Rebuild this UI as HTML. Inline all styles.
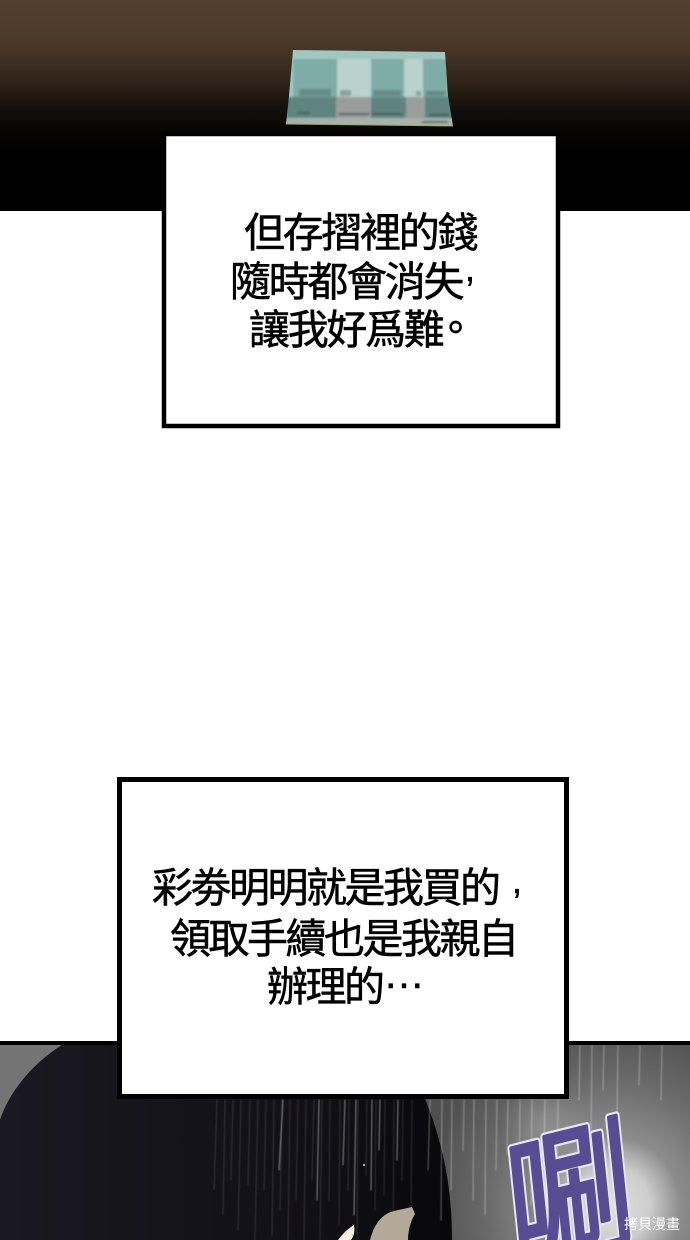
<!DOCTYPE html>
<html lang="zh-Hant">
<head>
<meta charset="utf-8">
<title>Comic panel</title>
<style>
html,body{margin:0;padding:0;background:#fff}
svg{display:block}
.t{font-family:"Liberation Sans","WenQuanYi Zen Hei","Noto Sans CJK TC",sans-serif;font-size:41px;fill:#000;stroke:#000;stroke-width:.55px}
.p{font-family:"Liberation Sans",sans-serif;font-size:36px;fill:#000;stroke:#000;stroke-width:.5px}
.g{font-family:"Liberation Sans","WenQuanYi Zen Hei","Noto Sans CJK TC",sans-serif;font-size:130px;stroke-linejoin:round}
</style>
</head>
<body>
<svg xmlns="http://www.w3.org/2000/svg" width="690" height="1240" viewBox="0 0 690 1240">
<defs>
<linearGradient id="top" x1="0" y1="0" x2="0" y2="1">
<stop offset="0" stop-color="#533f2e"/>
<stop offset=".2" stop-color="#4c3a2a"/>
<stop offset=".38" stop-color="#31251b"/>
<stop offset=".5" stop-color="#17110c"/>
<stop offset=".62" stop-color="#070504"/>
<stop offset=".72" stop-color="#000"/>
</linearGradient>
<linearGradient id="dark" x1="0" y1="0" x2="1" y2="0">
<stop offset="0" stop-color="#1a1820"/>
<stop offset=".7" stop-color="#111016"/>
<stop offset="1" stop-color="#08080b"/>
</linearGradient>
<radialGradient id="glow" gradientUnits="userSpaceOnUse" cx="612" cy="1205" r="190">
<stop offset="0" stop-color="#e0e0e0"/>
<stop offset=".2" stop-color="#cdcdcd"/>
<stop offset=".36" stop-color="#8c8c8c"/>
<stop offset=".7" stop-color="#666"/>
<stop offset="1" stop-color="#4f4f4f"/>
</radialGradient>
<radialGradient id="spot" gradientUnits="userSpaceOnUse" cx="545" cy="1125" r="45">
<stop offset="0" stop-color="#aaa" stop-opacity=".45"/>
<stop offset="1" stop-color="#aaa" stop-opacity="0"/>
</radialGradient>
<clipPath id="card"><polygon points="293,50 445,52 448,96 453,126 286,124 289,96"/></clipPath>
<clipPath id="scene"><rect x="0" y="1045" width="690" height="195"/></clipPath>
<filter id="b"><feGaussianBlur stdDeviation="1"/></filter>
<filter id="r"><feGaussianBlur stdDeviation=".45"/></filter>
</defs>

<!-- top panel -->
<rect width="690" height="211" fill="url(#top)"/>
<g clip-path="url(#card)">
<g filter="url(#b)">
<rect x="280" y="45" width="180" height="85" fill="#a3c7c0"/>
<rect x="293" y="59" width="44" height="38" fill="#7eaca6"/>
<rect x="337" y="59" width="34" height="38" fill="#b9d3cc"/>
<rect x="371" y="59" width="33" height="38" fill="#7eaca6"/>
<rect x="404" y="59" width="19" height="38" fill="#b9d3cc"/>
<rect x="423" y="59" width="30" height="38" fill="#7eaca6"/>
<rect x="280" y="97" width="56" height="22" fill="#5f8481"/>
<rect x="336" y="97" width="35" height="22" fill="#9a9d9c"/>
<rect x="371" y="97" width="35" height="22" fill="#5f8481"/>
<rect x="406" y="97" width="19" height="22" fill="#9a9d9c"/>
<rect x="425" y="97" width="30" height="22" fill="#5f8481"/>
<rect x="280" y="118" width="180" height="10" fill="#a5b3ac"/>
<rect x="299" y="89" width="32" height="7" fill="#668a87"/>
<rect x="340" y="90" width="11" height="6" fill="#8ba19c"/>
<rect x="373" y="90" width="28" height="6" fill="#668a87"/>
<rect x="416" y="91" width="5" height="5" fill="#8ba19c"/>
<rect x="426" y="91" width="19" height="5" fill="#668a87"/>
<rect x="297" y="112" width="13" height="2" fill="#3f5c5a"/>
<rect x="339" y="113" width="30" height="2" fill="#4a5d5b"/>
<rect x="372" y="113" width="30" height="2" fill="#3f5c5a"/>
<rect x="429" y="114" width="20" height="2" fill="#3f5c5a"/>
<rect x="422" y="121" width="26" height="2" fill="#55625e"/>
</g>
</g>
<path d="M286 124 L453 126" stroke="#9aa85f" stroke-width="1"/>

<!-- box 1 -->
<rect x="164" y="134" width="394" height="292" fill="#fff" stroke="#000" stroke-width="4.5"/>
<text class="t" x="244" y="247" letter-spacing="-2.300">但存摺裡的錢</text>
<text class="t" x="230" y="296" letter-spacing="-2.300">隨時都會消失</text>
<text class="p" x="465" y="281">,</text>
<text class="t" x="249" y="344" letter-spacing="-2.300">讓我好爲難</text>
<text x="436" y="342" font-family="'Liberation Sans','WenQuanYi Zen Hei','Noto Sans CJK TC',sans-serif" font-size="39" stroke="#000" stroke-width=".7">。</text>

<!-- bottom panel -->
<rect x="0" y="1041" width="690" height="199" fill="#000"/>
<g clip-path="url(#scene)">
<rect x="0" y="1045" width="690" height="195" fill="url(#glow)"/>
<rect x="480" y="1080" width="130" height="90" fill="url(#spot)"/>
<path d="M0 1045 H62 C30 1065 8 1095 0 1120 Z" fill="#747474"/>
<path d="M62 1045 H400 C425 1095 452 1150 452 1240 H0 V1120 C8 1095 30 1065 62 1045 Z" fill="url(#dark)"/>
<g stroke="#fff" stroke-linecap="round" fill="none" filter="url(#r)">
<g stroke-opacity=".14" stroke-width="1">
<path d="M217 1100 L214 1190"/><path d="M225 1100 L223 1215"/><path d="M233 1100 L231 1180"/>
<path d="M241 1100 L238 1230"/><path d="M250 1100 L248 1185"/><path d="M258 1100 L255 1240"/>
<path d="M266 1100 L264 1190"/><path d="M274 1100 L272 1235"/><path d="M282 1100 L280 1210"/>
<path d="M290 1100 L288 1240"/><path d="M298 1100 L296 1200"/><path d="M306 1100 L304 1240"/>
<path d="M314 1100 L312 1180"/><path d="M322 1100 L320 1240"/><path d="M330 1100 L329 1200"/>
<path d="M340 1100 L339 1225"/><path d="M349 1100 L348 1190"/><path d="M358 1100 L357 1240"/>
<path d="M367 1100 L366 1175"/><path d="M376 1100 L375 1210"/><path d="M385 1100 L384 1195"/>
<path d="M394 1100 L393 1240"/><path d="M403 1100 L402 1180"/><path d="M412 1100 L411 1205"/>
</g>
<g stroke-opacity=".45" stroke-width="1.1">
<path d="M283 1100 L279 1170"/><path d="M319 1100 L317 1200"/><path d="M345 1100 L343 1165"/>
<path d="M356 1100 L354 1215"/><path d="M372 1100 L371 1190"/><path d="M380 1100 L379 1150"/>
<path d="M398 1100 L397 1160"/>
</g>
<g stroke-opacity=".28" stroke-width="1.3">
<path d="M430 1100 L428 1170"/><path d="M442 1100 L441 1220"/><path d="M452 1100 L451 1190"/>
<path d="M464 1100 L463 1150"/><path d="M474 1100 L473 1200"/><path d="M486 1100 L485 1215"/>
<path d="M497 1100 L496 1170"/><path d="M508 1100 L507 1155"/><path d="M520 1100 L519 1180"/>
<path d="M532 1100 L531 1205"/><path d="M545 1100 L544 1150"/><path d="M558 1100 L557 1175"/>
<path d="M580 1045 L579 1100"/><path d="M592 1045 L591 1130"/><path d="M604 1045 L603 1090"/>
<path d="M618 1045 L617 1120"/><path d="M640 1045 L639 1085"/><path d="M662 1045 L661 1100"/>
</g>
</g>
<circle cx="364" cy="1165" r="1" fill="#ddd"/>
<path d="M370 1240 C374 1224 382 1214 394 1211 L412 1207 L415 1214 C410 1222 408 1232 408 1240 Z" fill="#b3a999"/>
<path d="M338 1240 C344 1232 349 1228 354 1225 C355 1231 354 1236 351 1240 Z" fill="#f6efdf"/>
<g transform="translate(514 1264) rotate(-14) skewX(-8) scale(.98 1.12)">
<text class="g" x="0" y="0" fill="#e6e6ee" stroke="#e6e6ee" stroke-width="7">唰</text>
<text class="g" x="0" y="0" fill="#584c92" stroke="#584c92" stroke-width="3">唰</text>
</g>
<text x="624" y="1229" font-family="'Liberation Sans','WenQuanYi Zen Hei','Noto Sans CJK TC',sans-serif" font-size="14" fill="#fff" textLength="56" lengthAdjust="spacingAndGlyphs">拷貝漫畫</text>
</g>

<!-- box 2 -->
<rect x="119.500" y="779.500" width="447" height="317" fill="#fff" stroke="#000" stroke-width="5"/>
<text class="t" x="152" y="902" letter-spacing="-2.500">彩劵明明就是我買的</text>
<text class="p" x="512" y="893">,</text>
<text class="t" x="170" y="953" letter-spacing="-2.500">領取手續也是我親自</text>
<text class="t" x="267" y="1001" letter-spacing="-2.500">辦理的</text>
<text x="383" y="988" font-family="'Liberation Sans',sans-serif" font-size="42" stroke="#000" stroke-width=".4">…</text>
</svg>
</body>
</html>
